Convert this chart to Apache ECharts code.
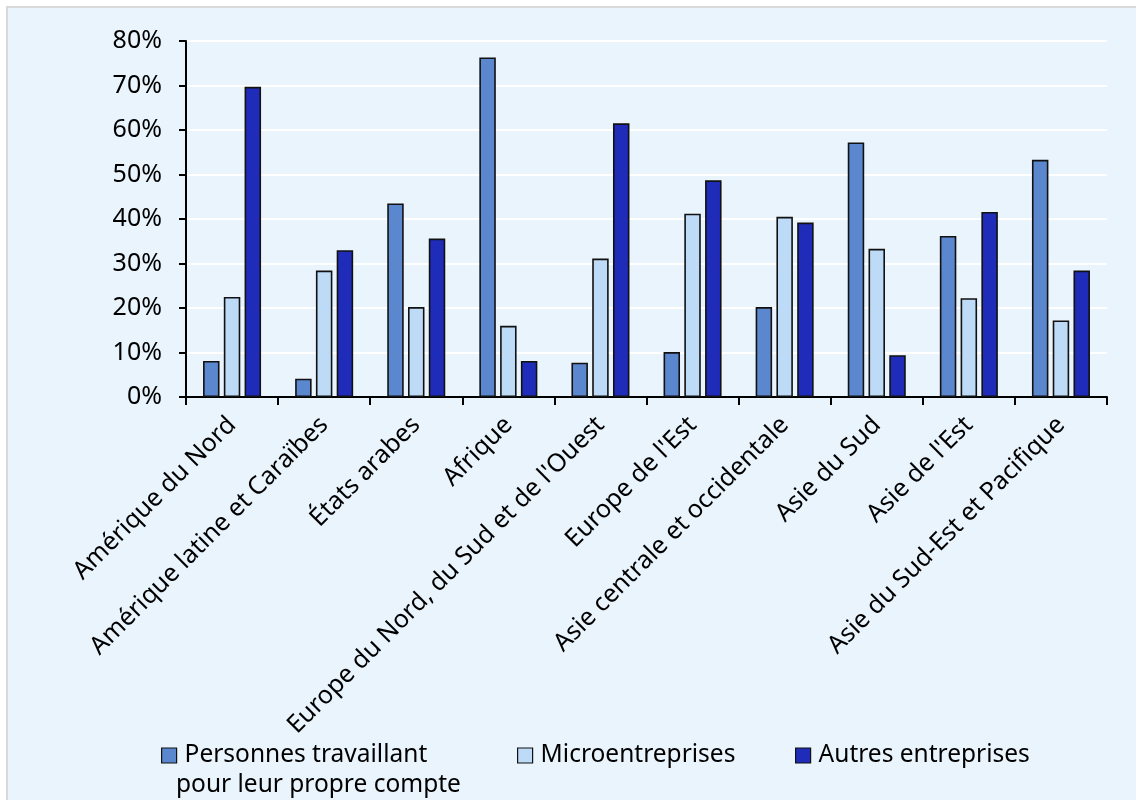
<!DOCTYPE html>
<html lang="fr">
<head>
<meta charset="utf-8">
<title>Répartition de l'emploi par type d'unité économique</title>
<script src="https://cdn.jsdelivr.net/npm/echarts@6/dist/echarts.min.js"></script>
<style>
  html, body { margin: 0; padding: 0; background: #ffffff; }
  #panel {
    position: absolute; left: 6px; top: 6px; right: 0; bottom: 0;
    background: #EAF4FD;
    border-top: 2px solid #D9D9D9;
    border-left: 2px solid #D9D9D9;
  }
  #chart { position: absolute; left: 0; top: 0; width: 1136px; height: 800px; }
</style>
</head>
<body>
<div id="panel"></div>
<div id="chart"></div>
<script>
// Régions
const categories = [
  'Amérique du Nord',
  'Amérique latine et Caraïbes',
  'États arabes',
  'Afrique',
  "Europe du Nord, du Sud et de l'Ouest",
  "Europe de l'Est",
  'Asie centrale et occidentale',
  'Asie du Sud',
  "Asie de l'Est",
  'Asie du Sud-Est et Pacifique'
];

// Part de l'emploi (%) par type d'unité
const selfEmployed = [8.1, 4.1, 43.5, 76.3, 7.7, 10.1, 20.2, 57.2, 36.2, 53.3];
const microEnterprises = [22.5, 28.4, 20.2, 16.0, 31.1, 41.2, 40.5, 33.3, 22.2, 17.2];
const otherEnterprises = [69.7, 33.0, 35.6, 8.1, 61.5, 48.7, 39.2, 9.4, 41.6, 28.4];

const seriesNames = [
  'Personnes travaillant pour leur propre compte',
  'Microentreprises',
  'Autres entreprises'
];
// Le premier libellé de légende s'affiche sur deux lignes
const firstLegendLines = ['Personnes travaillant', 'pour leur propre compte'];

const yTicks = { min: 0, max: 80, interval: 10 };

const FONT = '"Noto Sans", "Open Sans", sans-serif';
const AXIS_FONT_SIZE = 25;
const LEGEND_FONT_SIZE = 24.5;
const colors = ['#5B87CF', '#BDDAF7', '#1F2CB9'];

const chart = echarts.init(document.getElementById('chart'), null, { renderer: 'canvas' });

function barSeries(name, data, color) {
  return {
    name: name,
    type: 'bar',
    data: data,
    barGap: '26%',
    barCategoryGap: '37%',
    itemStyle: { color: color, borderColor: '#111111', borderWidth: 1.6 },
    emphasis: { disabled: true }
  };
}

function legendItem(name, left, extra) {
  return Object.assign({
    data: [{ name: name, icon: 'rect' }],
    left: left,
    top: 738,
    orient: 'horizontal',
    itemWidth: 15,
    itemHeight: 15,
    selectedMode: false,
    itemStyle: { borderColor: '#111111', borderWidth: 1.2 },
    textStyle: {
      fontFamily: FONT, fontSize: LEGEND_FONT_SIZE, color: '#000000',
      padding: [0, 0, 0, 3]
    }
  }, extra || {});
}

chart.setOption({
  backgroundColor: 'transparent',
  animation: false,
  textStyle: { fontFamily: FONT },
  grid: { left: 186, right: 29, top: 41, bottom: 403, containLabel: false },
  legend: [
    legendItem(seriesNames[0], 156, { formatter: () => firstLegendLines[0] }),
    legendItem(seriesNames[1], 512),
    legendItem(seriesNames[2], 790)
  ],
  graphic: [{
    type: 'text',
    left: 176,
    top: 773,
    silent: true,
    style: {
      text: firstLegendLines[1],
      font: LEGEND_FONT_SIZE + 'px ' + FONT,
      fill: '#000000'
    }
  }],
  xAxis: {
    type: 'category',
    data: categories,
    axisLine: { show: true, lineStyle: { color: '#000000', width: 2 } },
    axisTick: { show: true, length: 8, lineStyle: { color: '#000000', width: 2 } },
    axisLabel: {
      rotate: 45, interval: 0, margin: 24,
      fontFamily: FONT, fontSize: AXIS_FONT_SIZE, color: '#000000'
    },
    splitLine: { show: false }
  },
  yAxis: {
    type: 'value',
    min: yTicks.min, max: yTicks.max, interval: yTicks.interval,
    axisLine: { show: true, lineStyle: { color: '#000000', width: 2 } },
    axisTick: { show: true, length: 7, lineStyle: { color: '#000000', width: 2 } },
    axisLabel: {
      margin: 24, fontFamily: FONT, fontSize: AXIS_FONT_SIZE, color: '#000000',
      formatter: v => v + '%'
    },
    splitLine: { show: true, lineStyle: { color: '#FFFFFF', width: 2 } }
  },
  series: [
    barSeries(seriesNames[0], selfEmployed, colors[0]),
    barSeries(seriesNames[1], microEnterprises, colors[1]),
    barSeries(seriesNames[2], otherEnterprises, colors[2])
  ]
});
</script>
</body>
</html>
